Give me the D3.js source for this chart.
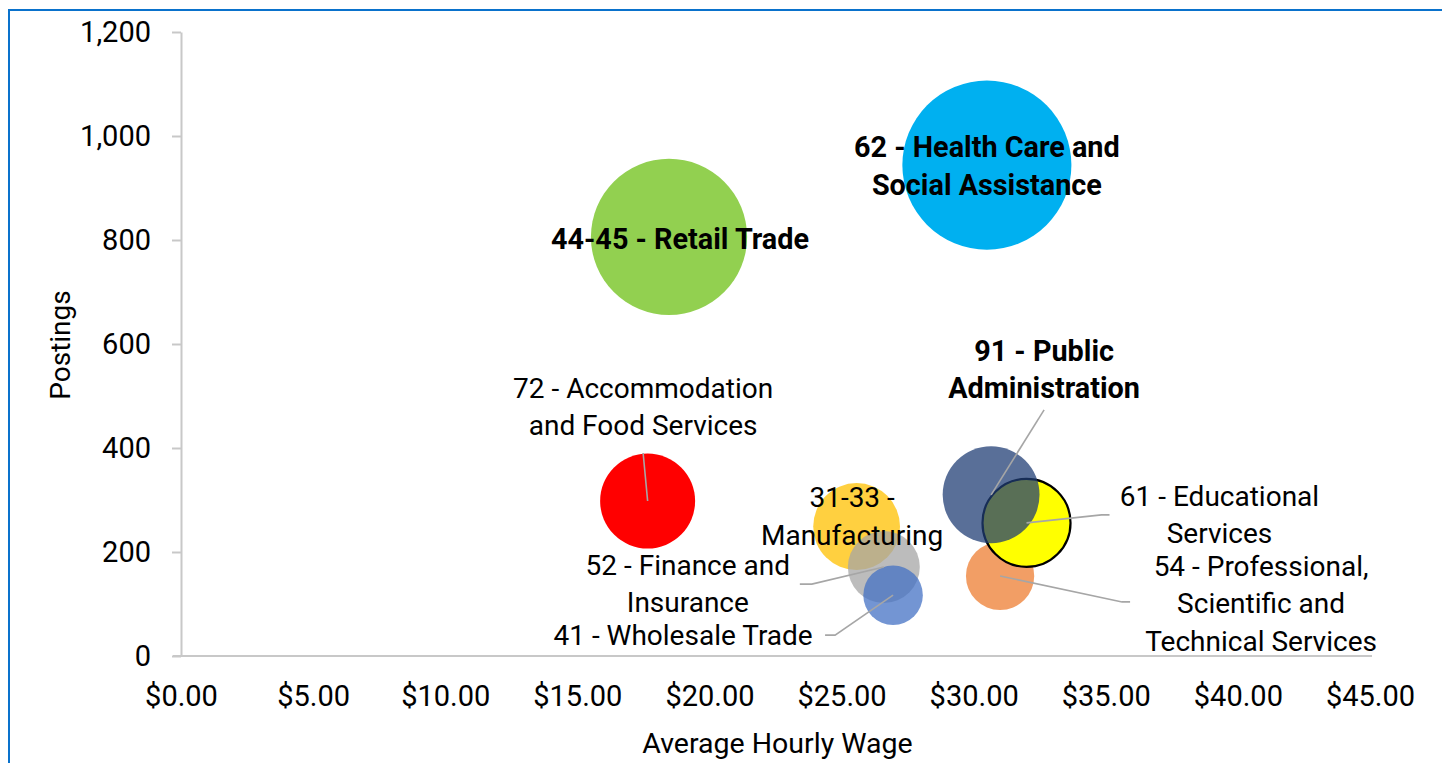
<!DOCTYPE html>
<html>
<head>
<meta charset="utf-8">
<script src="https://cdn.jsdelivr.net/npm/d3@7"></script>
<style>
  html, body { margin: 0; padding: 0; background: #fff; }
  svg { display: block; font-family: Roboto, "Noto Sans", sans-serif; }
</style>
</head>
<body>
<script>
// industries (NAICS sectors)
var names = ['44-45 - Retail Trade', '62 - Health Care and Social Assistance', '72 - Accommodation and Food Services',
             '31-33 - Manufacturing', '52 - Finance and Insurance', '41 - Wholesale Trade',
             '54 - Professional, Scientific and Technical Services', '61 - Educational Services', '91 - Public Administration'];
var labelLines = [['44-45 - Retail Trade'], ['62 - Health Care and', 'Social Assistance'], ['72 - Accommodation', 'and Food Services'],
                  ['31-33 -', 'Manufacturing'], ['52 - Finance and', 'Insurance'], ['41 - Wholesale Trade'],
                  ['54 - Professional,', 'Scientific and', 'Technical Services'], ['61 - Educational', 'Services'], ['91 - Public', 'Administration']];
var wages    = [18.47, 30.5, 17.66, 25.57, 26.6, 26.95, 31.0, 32.0, 30.66];   // average hourly wage
var postings = [806, 944, 298, 249, 171, 117, 154, 256, 310];                 // postings
var sizes    = [806, 944, 298, 249, 171, 117, 154, 256, 310];                 // bubble size
var xTicks = [0, 5, 10, 15, 20, 25, 30, 35, 40, 45];
var yTicks = [0, 200, 400, 600, 800, 1000, 1200];

// styling / layout (not data)
var colors  = ['#92D050', '#00B0F0', '#FF0000', '#FFC000', '#A5A5A5', '#4472C4', '#ED7D31', '#FFFF00', '#1F3D74'];
var opacity = [1, 1, 1, 0.75, 0.75, 0.75, 0.75, 1, 0.74];
var bold    = [true, true, false, false, false, false, false, false, true];
// label offset from the bubble centre (centre of first line), leader points
var labelOff = [[11, 2], [0, -18], [-4.5, -113], [-4.5, -29], [-196, -2], [-210, 40], [261, -10], [193, -27], [53, -144]];
var leaders  = [null, null, [[-4.5, -48]], null, [[-84, 17], [-72, 17]], [[-68, 40], [-58, 40]],
                [[130, 26], [122, 26]], [[83, -8], [75, -8]], [[53, -85]]];

var width = 1442, height = 763,
    margin = {left: 181, top: 32, right: 72, bottom: 107},
    g_width = width - margin.left - margin.right,
    g_height = height - margin.top - margin.bottom;

var svg = d3.select('body').append('svg')
            .attr('width', width)
            .attr('height', height);

// frame
svg.append('rect').attr('x', 9).attr('y', 10).attr('width', width + 20).attr('height', height + 20)
   .attr('fill', '#fff').attr('stroke', '#0A72CC').attr('stroke-width', 2);

var g = svg.append('g').attr('transform', 'translate(' + margin.left + ',' + margin.top + ')');

var scale_x = d3.scaleLinear().domain([0, 45]).range([0, g_width]);
var scale_y = d3.scaleLinear().domain([0, 1200]).range([g_height, 0]);
var scale_r = d3.scaleSqrt().domain([0, 1200]).range([0, 95.3]);

// axes
var x_axis = d3.axisBottom(scale_x).tickValues(xTicks).tickSize(0).tickPadding(29)
               .tickFormat(function(d){ return '$' + d3.format('.2f')(d); });
var y_axis = d3.axisLeft(scale_y).tickValues(yTicks).tickSize(9).tickSizeOuter(0).tickPadding(21)
               .tickFormat(d3.format(','));

var gx = g.append('g').attr('transform', 'translate(0,' + g_height + ')').call(x_axis);
var gy = g.append('g').call(y_axis);
[gx, gy].forEach(function(a){
  a.selectAll('path, line').attr('stroke', '#C8C8C8').attr('stroke-width', 2);
  a.selectAll('text').attr('font-size', 29).attr('fill', '#000').attr('font-family', 'Roboto, sans-serif');
});
gx.select('.domain').attr('d', 'M-8,0H' + (g_width + 2));

g.append('text').text('Average Hourly Wage')
 .attr('x', scale_x(22.5) + 2).attr('y', g_height + 97)
 .attr('text-anchor', 'middle').attr('font-size', 28.5).attr('fill', '#000');
g.append('text').text('Postings')
 .attr('transform', 'translate(' + (-111) + ',' + (g_height / 2 + 1) + ') rotate(-90)')
 .attr('text-anchor', 'middle').attr('font-size', 28).attr('fill', '#000');

// bubbles
var idx = d3.range(names.length);
g.selectAll('circle.bubble').data(idx).enter().append('circle')
 .attr('class', 'bubble')
 .attr('cx', function(i){ return scale_x(wages[i]); })
 .attr('cy', function(i){ return scale_y(postings[i]); })
 .attr('r', function(i){ return scale_r(sizes[i]); })
 .attr('fill', function(i){ return colors[i]; })
 .attr('fill-opacity', function(i){ return opacity[i]; })
 .attr('stroke', function(i){ return names[i].indexOf('61') === 0 ? '#000' : 'none'; })
 .attr('stroke-width', 2.2);

// leader lines
var line_generator = d3.line();
idx.forEach(function(i){
  if (!leaders[i]) return;
  var cx = scale_x(wages[i]), cy = scale_y(postings[i]);
  var pts = leaders[i].map(function(p){ return [cx + p[0], cy + p[1]]; });
  pts.push([cx, cy]);
  g.append('path').attr('d', line_generator(pts))
   .attr('fill', 'none').attr('stroke', '#A6A6A6').attr('stroke-width', 1.6);
});

// data labels
idx.forEach(function(i){
  var cx = scale_x(wages[i]), cy = scale_y(postings[i]);
  var t = g.append('text')
           .attr('text-anchor', 'middle')
           .attr('font-size', bold[i] ? 28.8 : 28)
           .attr('font-weight', bold[i] ? 700 : 400)
           .attr('fill', '#000');
  labelLines[i].forEach(function(s, k){
    t.append('tspan').text(s)
     .attr('x', cx + labelOff[i][0])
     .attr('y', cy + labelOff[i][1] + k * 37.5)
     .attr('dy', '0.35em');
  });
});
</script>
</body>
</html>
